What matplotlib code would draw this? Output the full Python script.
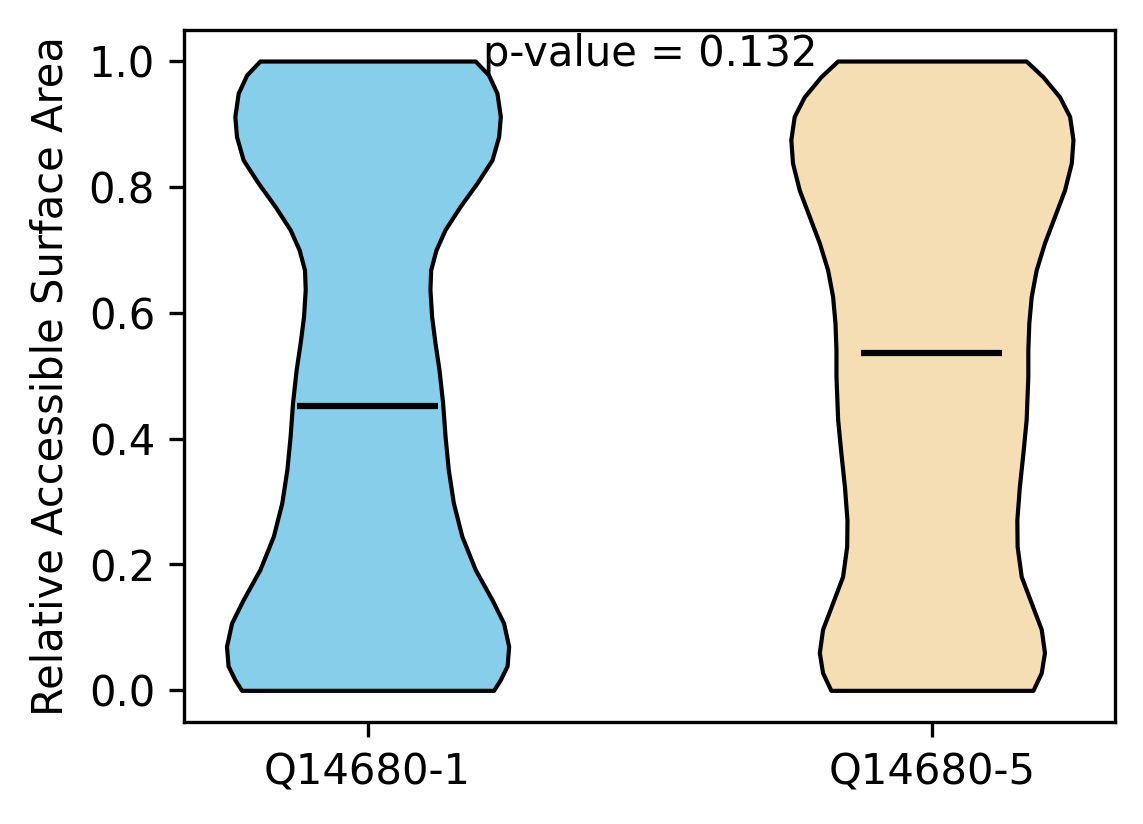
import numpy as np
import matplotlib
matplotlib.use("Agg")
import matplotlib.pyplot as plt

labels = ["Q14680-1", "Q14680-5"]
colors = ["skyblue", "wheat"]
medians = [0.452, 0.536]
p_value = 0.132

# density profile (relative width vs. RSA value)
coords1 = [0.0, 0.017, 0.039, 0.070, 0.107, 0.144, 0.192, 0.245, 0.298, 0.351, 0.404,
           0.457, 0.510, 0.552, 0.594, 0.637, 0.668, 0.700, 0.732, 0.769, 0.806, 0.843,
           0.880, 0.912, 0.949, 0.978, 1.0]
vals1 = [0.893, 0.941, 0.989, 1.0, 0.964, 0.882, 0.763, 0.668, 0.608, 0.572, 0.549,
         0.532, 0.506, 0.478, 0.454, 0.442, 0.447, 0.485, 0.549, 0.656, 0.775, 0.882,
         0.929, 0.941, 0.917, 0.857, 0.763]
coords2 = [0.0, 0.028, 0.060, 0.097, 0.139, 0.181, 0.229, 0.271, 0.324, 0.377, 0.430,
           0.499, 0.541, 0.584, 0.626, 0.668, 0.711, 0.753, 0.795, 0.838, 0.875, 0.912,
           0.943, 0.975, 1.0]
vals2 = [0.716, 0.775, 0.798, 0.775, 0.704, 0.633, 0.604, 0.602, 0.620, 0.645, 0.668,
         0.680, 0.680, 0.687, 0.704, 0.739, 0.798, 0.869, 0.940, 0.988, 1.0, 0.976,
         0.905, 0.787, 0.668]

stats = []
for c, v, m in [(coords1, vals1, medians[0]), (coords2, vals2, medians[1])]:
    c = np.array(c); v = np.array(v)
    stats.append(dict(coords=c, vals=v, mean=m, median=m, min=c.min(), max=c.max()))

fig, ax = plt.subplots(figsize=(3.813, 2.747), dpi=300)
parts = ax.violin(stats, positions=[1, 2], widths=0.5, showmeans=False,
                  showextrema=False, showmedians=True)
for body, col in zip(parts["bodies"], colors):
    body.set_facecolor(col)
    body.set_edgecolor("black")
    body.set_linewidth(1)
    body.set_alpha(1)
parts["cmedians"].set_color("black")
parts["cmedians"].set_linewidth(1.5)

ax.set_xticks([1, 2])
ax.set_xticklabels(labels)
ax.set_ylabel("Relative Accessible Surface Area")
ax.text(1.5, 1.012, f"p-value = {p_value}", ha="center", va="center")
fig.subplots_adjust(left=0.161, right=0.975, top=0.964, bottom=0.124)
fig.savefig("out.png", dpi=300)
